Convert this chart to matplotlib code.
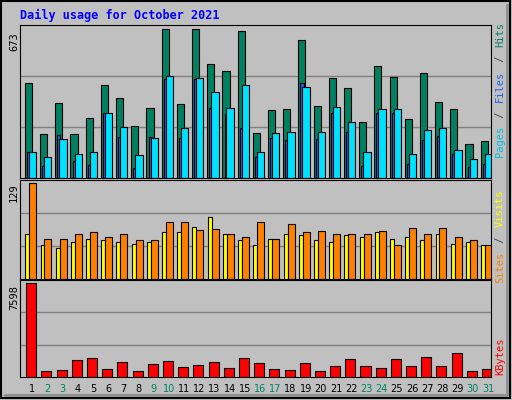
import matplotlib.pyplot as plt
import numpy as np

days = list(range(1, 32))
weekend = [2, 3, 9, 10, 16, 17, 23, 24, 30, 31]

hits = [431, 198, 340, 198, 271, 422, 362, 234, 317, 673, 335, 673, 518, 486, 668, 203,
        308, 312, 627, 326, 454, 408, 253, 509, 458, 266, 477, 344, 312, 152, 166]
files = [120, 93, 175, 111, 120, 294, 230, 102, 180, 463, 225, 454, 390, 317, 422, 116,
         203, 207, 413, 207, 321, 253, 116, 312, 312, 111, 216, 225, 125, 88, 111]
pages = [120, 56, 193, 75, 61, 294, 184, 47, 184, 449, 180, 449, 317, 289, 225, 93,
         180, 171, 431, 175, 294, 207, 56, 294, 294, 65, 171, 189, 111, 52, 65]
visits = [129, 54, 54, 60, 63, 56, 60, 52, 52, 76, 77, 66, 67, 61, 56, 76,
          54, 74, 63, 64, 60, 60, 61, 64, 46, 68, 60, 68, 56, 52, 46]
sites = [61, 46, 42, 49, 54, 53, 49, 47, 49, 63, 63, 70, 83, 60, 53, 45,
         54, 60, 59, 52, 50, 59, 56, 63, 54, 56, 53, 61, 47, 49, 46]
kbytes = [7598, 444, 527, 1359, 1525, 610, 1192, 444, 1026, 1276, 776, 943, 1192, 693, 1525, 1109,
          610, 527, 1109, 444, 860, 1442, 860, 693, 1442, 860, 1608, 860, 1941, 444, 610]

bg = '#c0c0c0'
W, H = 512, 400
fig = plt.figure(figsize=(W / 100, H / 100), dpi=100, facecolor=bg)

# outer black frame
frame = fig.add_axes([0, 0, 1, 1])
frame.set_xlim(0, W)
frame.set_ylim(H, 0)
frame.axis('off')
frame.add_patch(plt.Rectangle((1, 1), W - 3, H - 3, fill=False, edgecolor='black', lw=1.5))
frame.add_patch(plt.Rectangle((4, H - 6), W - 8, 3, color='#909090', lw=0))
frame.add_patch(plt.Rectangle((W - 6, 4), 3, H - 8, color='#909090', lw=0))

def panel(y0, y1):
    ax = fig.add_axes([20 / W, 1 - y1 / H, (491 - 20) / W, (y1 - y0) / H])
    ax.set_facecolor(bg)
    ax.set_xlim(0, 31)
    ax.set_xticks([])
    ax.set_yticks([])
    for s in ax.spines.values():
        s.set_color('black')
    for f in (1 / 3, 2 / 3):
        ax.axhline(f, color='#808080', lw=1, zorder=0, xmax=1) if False else None
    return ax

x = np.arange(31)
kw = dict(edgecolor='black', linewidth=0.8, align='edge', zorder=2)

ax1 = panel(25, 178)
ax1.set_ylim(0, 673 * 1.03)
for f in (1 / 3, 2 / 3):
    ax1.axhline(673 * 1.03 * f, color='#808080', lw=1, zorder=1)
ax1.bar(x + 0.32, hits, width=0.47, color='#008060', **kw)
ax1.bar(x + 0.46, pages, width=0.2, color='#1a5ff0', **kw)
ax1.bar(x + 0.59, files, width=0.48, color='#00e0ff', **kw)

ax2 = panel(180, 279)
ax2.set_ylim(0, 129 * 1.03)
for f in (1 / 3, 2 / 3):
    ax2.axhline(129 * 1.03 * f, color='#808080', lw=1, zorder=1)
ax2.bar(x + 0.35, sites, width=0.26, color='#ffff00', **kw)
ax2.bar(x + 0.61, visits, width=0.46, color='#ff8000', **kw)

ax3 = panel(280, 377)
ax3.set_ylim(0, 7598 * 1.03)
for f in (1 / 3, 2 / 3):
    ax3.axhline(7598 * 1.03 * f, color='#808080', lw=1, zorder=1)
ax3.bar(x + 0.41, kbytes, width=0.66, color='#ff0000', **kw)

mono = 'DejaVu Sans Mono'
fig.text(20 / W, 1 - 15 / H, 'Daily usage for October 2021', color='#0000ff',
         family=mono, weight='bold', fontsize=8.5, va='center')
for y, s in ((42, '673'), (193, '129'), (298, '7598')):
    fig.text(14 / W, 1 - y / H, s, rotation=90, family=mono, fontsize=7.5,
             ha='center', va='center')

# right side labels
def side(parts, ycenter):
    total = sum(len(p) for p, _ in parts)
    ch = 6.9
    ypos = ycenter + total * ch / 2
    for p, c in parts:
        n = len(p)
        fig.text(500 / W, 1 - (ypos - n * ch / 2) / H, p, rotation=90, color=c,
                 family=mono, fontsize=7.5, ha='center', va='center')
        ypos -= n * ch

side([('Pages', '#00c0e0'), (' / ', '#404040'), ('Files', '#1a5ff0'),
      (' / ', '#404040'), ('Hits', '#008060')], 90)
side([('Sites', '#ff8000'), (' / ', '#404040'), ('Visits', '#ffff00')], 236)
side([('KBytes', '#ff0000')], 356)

for d in days:
    c = '#008060' if d in weekend else 'black'
    fig.text((20 + (d - 1 + 0.8) * 471 / 31) / W, 1 - 389 / H, str(d), color=c,
             family='DejaVu Sans', fontsize=7, ha='center', va='center')

fig.savefig('out.png', dpi=100, facecolor=bg)
